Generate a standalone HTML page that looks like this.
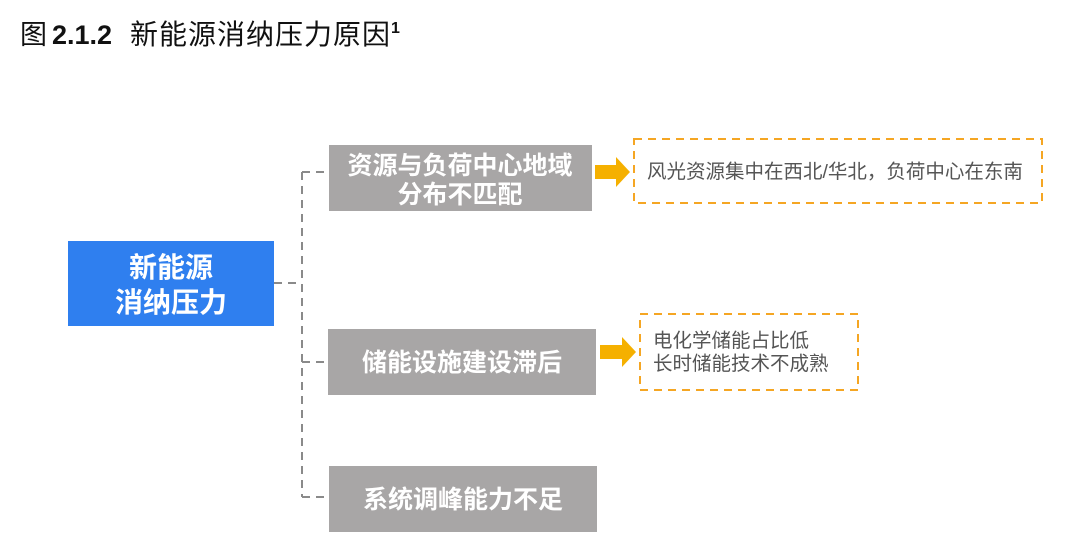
<!DOCTYPE html>
<html><head><meta charset="utf-8"><style>
body{margin:0;background:#fff;width:1080px;height:545px;overflow:hidden}
svg{display:block}
text{font-family:"Liberation Sans","Noto Sans CJK SC",sans-serif}
</style></head><body>
<svg width="1080" height="545" viewBox="0 0 1080 545">
<text x="20" y="44" font-size="27" fill="#111">图</text>
<text x="52" y="44" font-size="27" font-weight="bold" fill="#111">2.1.2</text>
<text x="130" y="44" font-size="28" letter-spacing="1" fill="#111">新能源消纳压力原因</text>
<text x="391" y="33" font-size="16" font-weight="bold" fill="#111">1</text>
<g stroke="#8a8a8a" stroke-width="2" stroke-dasharray="8,6" fill="none">
<path d="M274 283 H302"/>
<path d="M302 172 V497"/>
<path d="M302 172 H329"/>
<path d="M302 362 H328"/>
<path d="M302 497 H329"/>
</g>
<rect x="68" y="241" width="206" height="85" fill="#2f7fef"/>
<text x="171" y="277" font-size="28" font-weight="bold" fill="#fff" text-anchor="middle">新能源</text>
<text x="171" y="312" font-size="28" font-weight="bold" fill="#fff" text-anchor="middle">消纳压力</text>
<rect x="329" y="145" width="263" height="66" fill="#a8a6a6"/>
<text x="460" y="174" font-size="25" font-weight="bold" fill="#fff" text-anchor="middle">资源与负荷中心地域</text>
<text x="460" y="203" font-size="25" font-weight="bold" fill="#fff" text-anchor="middle">分布不匹配</text>
<rect x="328" y="329" width="268" height="66" fill="#a8a6a6"/>
<text x="462" y="371" font-size="25" font-weight="bold" fill="#fff" text-anchor="middle">储能设施建设滞后</text>
<rect x="329" y="466" width="268" height="66" fill="#a8a6a6"/>
<text x="463" y="508" font-size="25" font-weight="bold" fill="#fff" text-anchor="middle">系统调峰能力不足</text>
<path d="M595 165 H616 V157 L630 172 L616 187 V179 H595 Z" fill="#f5b000"/>
<path d="M600 345 H622 V337 L636 352 L622 367 V359 H600 Z" fill="#f5b000"/>
<rect x="634" y="139" width="408" height="64" fill="none" stroke="#f5a623" stroke-width="2" stroke-dasharray="8,6"/>
<text x="647" y="178" font-size="19.5" fill="#555">风光资源集中在西北/华北，负荷中心在东南</text>
<rect x="640" y="314" width="218" height="76" fill="none" stroke="#f5a623" stroke-width="2" stroke-dasharray="8,6"/>
<text x="653" y="347" font-size="19.5" fill="#555">电化学储能占比低</text>
<text x="653" y="370" font-size="19.5" fill="#555">长时储能技术不成熟</text>
</svg>
</body></html>
